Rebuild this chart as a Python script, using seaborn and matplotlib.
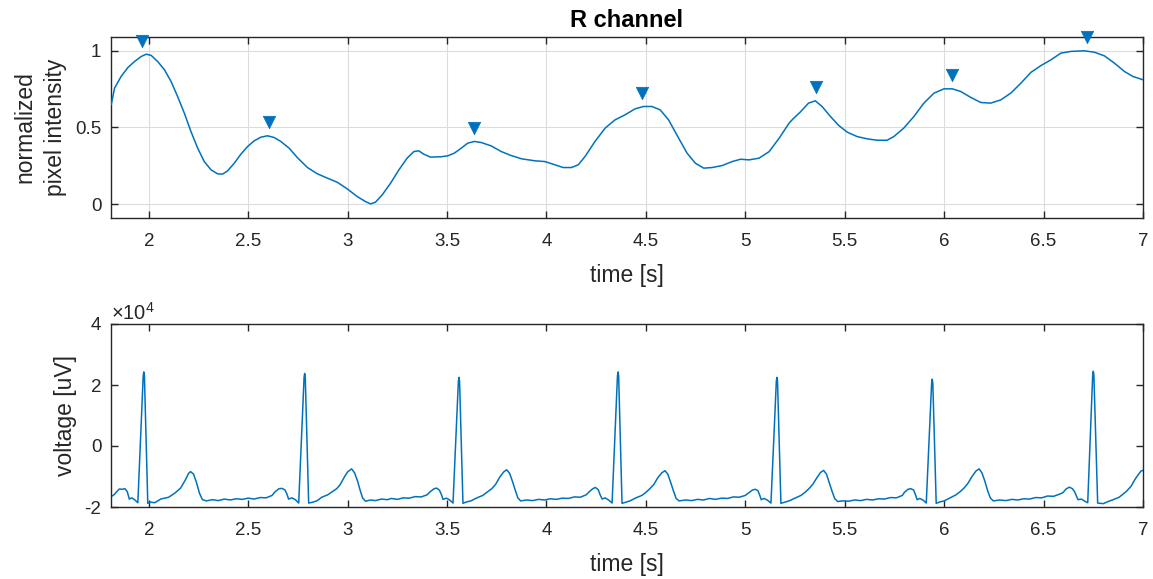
import numpy as np
import matplotlib
matplotlib.use("Agg")
import matplotlib.pyplot as plt
from matplotlib.ticker import FuncFormatter
import seaborn as sns

# ---------------- data ----------------
# R channel (normalized pixel intensity)
r_time = [1.811, 1.828, 1.861, 1.895, 1.928, 1.962, 1.987, 2.012, 2.045, 2.079,
          2.112, 2.145, 2.179, 2.212, 2.246, 2.279, 2.313, 2.346, 2.371, 2.396,
          2.430, 2.463, 2.497, 2.530, 2.564, 2.597, 2.630, 2.664, 2.706, 2.747,
          2.798, 2.848, 2.898, 2.948, 2.998, 3.048, 3.090, 3.115, 3.140, 3.174,
          3.216, 3.258, 3.299, 3.333, 3.358, 3.383, 3.416, 3.467, 3.503, 3.537,
          3.571, 3.604, 3.638, 3.672, 3.722, 3.773, 3.823, 3.874, 3.941, 3.992,
          4.042, 4.084, 4.126, 4.160, 4.194, 4.244, 4.295, 4.345, 4.396, 4.446,
          4.488, 4.530, 4.572, 4.614, 4.665, 4.707, 4.749, 4.791, 4.833, 4.884,
          4.934, 4.976, 5.019, 5.069, 5.120, 5.170, 5.221, 5.243, 5.276, 5.318,
          5.352, 5.386, 5.428, 5.470, 5.512, 5.562, 5.613, 5.663, 5.713, 5.747,
          5.797, 5.848, 5.898, 5.949, 5.999, 6.041, 6.083, 6.134, 6.184, 6.234,
          6.285, 6.335, 6.386, 6.436, 6.487, 6.537, 6.587, 6.638, 6.705, 6.755,
          6.806, 6.856, 6.907, 6.949, 7.000]
r_value = [0.648, 0.757, 0.833, 0.891, 0.930, 0.963, 0.978, 0.970, 0.930, 0.876,
           0.800, 0.702, 0.593, 0.474, 0.365, 0.278, 0.224, 0.198, 0.196, 0.217,
           0.267, 0.326, 0.376, 0.413, 0.437, 0.446, 0.435, 0.409, 0.365, 0.304,
           0.239, 0.198, 0.170, 0.143, 0.100, 0.050, 0.017, 0.002, 0.013, 0.061,
           0.137, 0.224, 0.300, 0.343, 0.348, 0.326, 0.307, 0.309, 0.315, 0.333,
           0.365, 0.398, 0.409, 0.402, 0.380, 0.343, 0.317, 0.296, 0.283, 0.278,
           0.257, 0.239, 0.239, 0.257, 0.311, 0.409, 0.496, 0.550, 0.583, 0.622,
           0.637, 0.637, 0.615, 0.550, 0.430, 0.333, 0.267, 0.235, 0.239, 0.252,
           0.278, 0.293, 0.289, 0.300, 0.343, 0.430, 0.530, 0.560, 0.600, 0.659,
           0.674, 0.637, 0.572, 0.513, 0.470, 0.441, 0.426, 0.417, 0.417, 0.441,
           0.496, 0.572, 0.659, 0.724, 0.752, 0.752, 0.735, 0.696, 0.663, 0.659,
           0.680, 0.724, 0.789, 0.859, 0.904, 0.941, 0.985, 0.996, 1.000, 0.991,
           0.967, 0.920, 0.865, 0.833, 0.811]

# detected peaks
peak_time = [1.967, 2.604, 3.638, 4.478, 5.357, 6.040, 6.717]
peak_value = [0.978, 0.446, 0.409, 0.637, 0.674, 0.752, 1.000]

# ECG (values in units of 1e4 uV)
ecg_time = [
    1.810, 1.825, 1.840, 1.852, 1.866, 1.880, 1.892, 1.902, 1.915, 1.930, 1.945,
    1.972, 1.975, 1.978, 1.995, 2.010, 2.030, 2.060, 2.100, 2.130, 2.160, 2.185,
    2.200, 2.210, 2.225, 2.240, 2.255, 2.270, 2.290, 2.320, 2.350, 2.380, 2.410,
    2.440, 2.470, 2.500, 2.530, 2.560, 2.590, 2.620,
    2.635, 2.655, 2.670, 2.685, 2.695, 2.703, 2.720, 2.737, 2.754, 2.781, 2.784,
    2.787, 2.804, 2.820, 2.845, 2.870, 2.900, 2.920, 2.945, 2.963, 2.985, 3.000,
    3.020, 3.035, 3.050, 3.062, 3.075, 3.090, 3.115, 3.140, 3.170, 3.200, 3.220,
    3.250, 3.280, 3.310, 3.340, 3.370, 3.400,
    3.415, 3.435, 3.448, 3.462, 3.472, 3.480, 3.497, 3.513, 3.530, 3.557, 3.560,
    3.563, 3.580, 3.595, 3.620, 3.650, 3.680, 3.700, 3.725, 3.745, 3.765, 3.785,
    3.800, 3.815, 3.830, 3.843, 3.856, 3.870, 3.900, 3.930, 3.960, 3.990, 4.020,
    4.050, 4.080, 4.110, 4.140, 4.170, 4.200,
    4.215, 4.233, 4.246, 4.260, 4.270, 4.280, 4.295, 4.312, 4.330, 4.357, 4.360,
    4.363, 4.380, 4.395, 4.420, 4.450, 4.480, 4.500, 4.520, 4.540, 4.560, 4.580,
    4.596, 4.610, 4.625, 4.638, 4.652, 4.667, 4.700, 4.730, 4.760, 4.790, 4.820,
    4.850, 4.880, 4.910, 4.940, 4.970, 5.000,
    5.020, 5.037, 5.050, 5.063, 5.073, 5.080, 5.095, 5.112, 5.129, 5.156, 5.159,
    5.162, 5.179, 5.195, 5.220, 5.250, 5.280, 5.300, 5.320, 5.340, 5.360, 5.378,
    5.394, 5.408, 5.422, 5.436, 5.450, 5.465, 5.490, 5.520, 5.550, 5.580, 5.610,
    5.640, 5.670, 5.700, 5.730, 5.760, 5.790,
    5.800, 5.818, 5.832, 5.846, 5.856, 5.864, 5.878, 5.895, 5.910, 5.937, 5.940,
    5.943, 5.960, 5.975, 6.000, 6.030, 6.060, 6.080, 6.100, 6.120, 6.140, 6.160,
    6.176, 6.190, 6.205, 6.218, 6.232, 6.247, 6.280, 6.310, 6.340, 6.370, 6.400,
    6.430, 6.460, 6.490, 6.520, 6.550, 6.580,
    6.597, 6.615, 6.630, 6.645, 6.656, 6.673, 6.690, 6.707, 6.722, 6.747, 6.750,
    6.753, 6.772, 6.800, 6.825, 6.850, 6.880, 6.916, 6.940, 6.960, 6.975, 6.990,
    7.000]
ecg_value_e4 = [
    -1.66, -1.60, -1.49, -1.41, -1.42, -1.40, -1.50, -1.74, -1.70, -1.77, -1.86,
    2.30, 2.43, 2.30, -1.88, -1.84, -1.86, -1.74, -1.68, -1.55, -1.38, -1.10,
    -0.90, -0.84, -0.92, -1.20, -1.55, -1.76, -1.80, -1.76, -1.79, -1.74, -1.77,
    -1.73, -1.75, -1.71, -1.74, -1.69, -1.70, -1.62,
    -1.50, -1.40, -1.39, -1.44, -1.58, -1.74, -1.70, -1.76, -1.87, 2.25, 2.38,
    2.25, -1.87, -1.85, -1.80, -1.68, -1.60, -1.51, -1.40, -1.26, -1.00, -0.85,
    -0.75, -0.88, -1.15, -1.43, -1.70, -1.81, -1.77, -1.79, -1.74, -1.76, -1.72,
    -1.75, -1.70, -1.71, -1.66, -1.67, -1.60,
    -1.50, -1.40, -1.38, -1.45, -1.60, -1.75, -1.71, -1.77, -1.87, 2.12, 2.25,
    2.12, -1.88, -1.84, -1.80, -1.70, -1.62, -1.52, -1.40, -1.25, -1.02, -0.85,
    -0.78, -0.90, -1.18, -1.45, -1.70, -1.80, -1.77, -1.79, -1.75, -1.77, -1.73,
    -1.75, -1.71, -1.72, -1.67, -1.68, -1.60,
    -1.50, -1.40, -1.36, -1.43, -1.60, -1.74, -1.70, -1.77, -1.87, 2.30, 2.43,
    2.30, -1.88, -1.85, -1.80, -1.70, -1.62, -1.52, -1.40, -1.26, -1.04, -0.88,
    -0.81, -0.92, -1.20, -1.46, -1.72, -1.80, -1.77, -1.79, -1.75, -1.77, -1.72,
    -1.75, -1.71, -1.72, -1.67, -1.68, -1.62,
    -1.52, -1.44, -1.42, -1.46, -1.62, -1.76, -1.72, -1.78, -1.87, 2.12, 2.25,
    2.12, -1.88, -1.85, -1.80, -1.71, -1.62, -1.52, -1.40, -1.25, -1.04, -0.87,
    -0.80, -0.92, -1.20, -1.48, -1.73, -1.82, -1.80, -1.81, -1.77, -1.79, -1.75,
    -1.77, -1.73, -1.74, -1.69, -1.70, -1.62,
    -1.52, -1.42, -1.40, -1.44, -1.60, -1.76, -1.72, -1.78, -1.87, 2.06, 2.19,
    2.06, -1.88, -1.84, -1.80, -1.70, -1.60, -1.50, -1.38, -1.22, -1.00, -0.82,
    -0.75, -0.88, -1.16, -1.45, -1.70, -1.80, -1.77, -1.79, -1.75, -1.77, -1.73,
    -1.74, -1.69, -1.70, -1.64, -1.65, -1.58,
    -1.53, -1.40, -1.35, -1.40, -1.50, -1.76, -1.74, -1.81, -1.86, 2.32, 2.45,
    2.32, -1.87, -1.89, -1.82, -1.76, -1.68, -1.49, -1.32, -1.09, -0.95, -0.82,
    -0.80]

x_ticks = [2, 2.5, 3, 3.5, 4, 4.5, 5, 5.5, 6, 6.5, 7]
top_yticks = [0, 0.5, 1]
bottom_yticks = [-20000, 0, 20000, 40000]

# ---------------- style ----------------
sns.set_theme(style="ticks")
plt.rcParams['font.family'] = ['Liberation Sans', 'DejaVu Sans']
plt.rcParams['mathtext.fontset'] = 'custom'
plt.rcParams['mathtext.rm'] = 'Liberation Sans'
plt.rcParams['axes.unicode_minus'] = False

BLUE = '#0072BD'
TXT = '#262626'
TICK_FS = 13.5
LABEL_FS = 16.5
TITLE_FS = 17

fig = plt.figure(figsize=(11.53, 5.79), dpi=100)
ax1 = fig.add_axes([111/1153, 1 - 218/579, (1143-111)/1153, (218-37)/579])
ax2 = fig.add_axes([111/1153, 1 - 507/579, (1143-111)/1153, (507-324)/579])

fmt = FuncFormatter(lambda v, p: f"{v:g}")

# top
sns.lineplot(x=np.array(r_time), y=np.array(r_value), ax=ax1, color=BLUE,
             linewidth=1.1, sort=False, estimator=None, zorder=3)
marker_offset = 0.088
sns.scatterplot(x=np.array(peak_time), y=np.array(peak_value) + marker_offset,
                ax=ax1, marker='v', s=80, color=BLUE, edgecolor=BLUE,
                linewidth=0.5, zorder=4, clip_on=False)
ax1.set_xlim(1.81, 7)
ax1.set_ylim(-0.09, 1.09)
ax1.set_xticks(x_ticks)
ax1.set_yticks(top_yticks)
ax1.xaxis.set_major_formatter(fmt)
ax1.yaxis.set_major_formatter(fmt)
ax1.grid(True, color='#dcdcdc', linewidth=0.8)
ax1.set_axisbelow(True)
ax1.set_title('R channel', fontsize=TITLE_FS, fontweight='bold', color='black', pad=7)
ax1.set_xlabel('time [s]', fontsize=LABEL_FS, color=TXT, labelpad=10)
ax1.set_ylabel('normalized\npixel intensity', fontsize=LABEL_FS, color=TXT,
               labelpad=6, linespacing=1.4)

# bottom
ecg_uv = np.array(ecg_value_e4) * 1e4
sns.lineplot(x=np.array(ecg_time), y=ecg_uv, ax=ax2, color=BLUE,
             linewidth=1.1, sort=False, estimator=None)
ax2.set_xlim(1.81, 7)
ax2.set_ylim(-20000, 40000)
ax2.set_xticks(x_ticks)
ax2.set_yticks(bottom_yticks)
ax2.xaxis.set_major_formatter(fmt)
yfmt = FuncFormatter(lambda v, p: f"{v/1e4:g}")
yfmt.set_offset_string(r'$\times\mathdefault{10^{4}}$')
ax2.yaxis.set_major_formatter(yfmt)
ax2.yaxis.get_offset_text().set_fontsize(TICK_FS + 1)
ax2.yaxis.get_offset_text().set_color(TXT)
ax2.set_xlabel('time [s]', fontsize=LABEL_FS, color=TXT, labelpad=10)
ax2.set_ylabel('voltage [uV]', fontsize=LABEL_FS, color=TXT, labelpad=5)

for ax in (ax1, ax2):
    for s in ax.spines.values():
        s.set_visible(True)
        s.set_color(TXT)
        s.set_linewidth(1.0)
    ax.tick_params(direction='in', top=True, right=True, length=5, width=1.0,
                   color=TXT, labelsize=TICK_FS, labelcolor=TXT)
    ax.tick_params(axis='x', pad=11)
    ax.tick_params(axis='y', pad=7)

fig.savefig('out.png', dpi=100)
